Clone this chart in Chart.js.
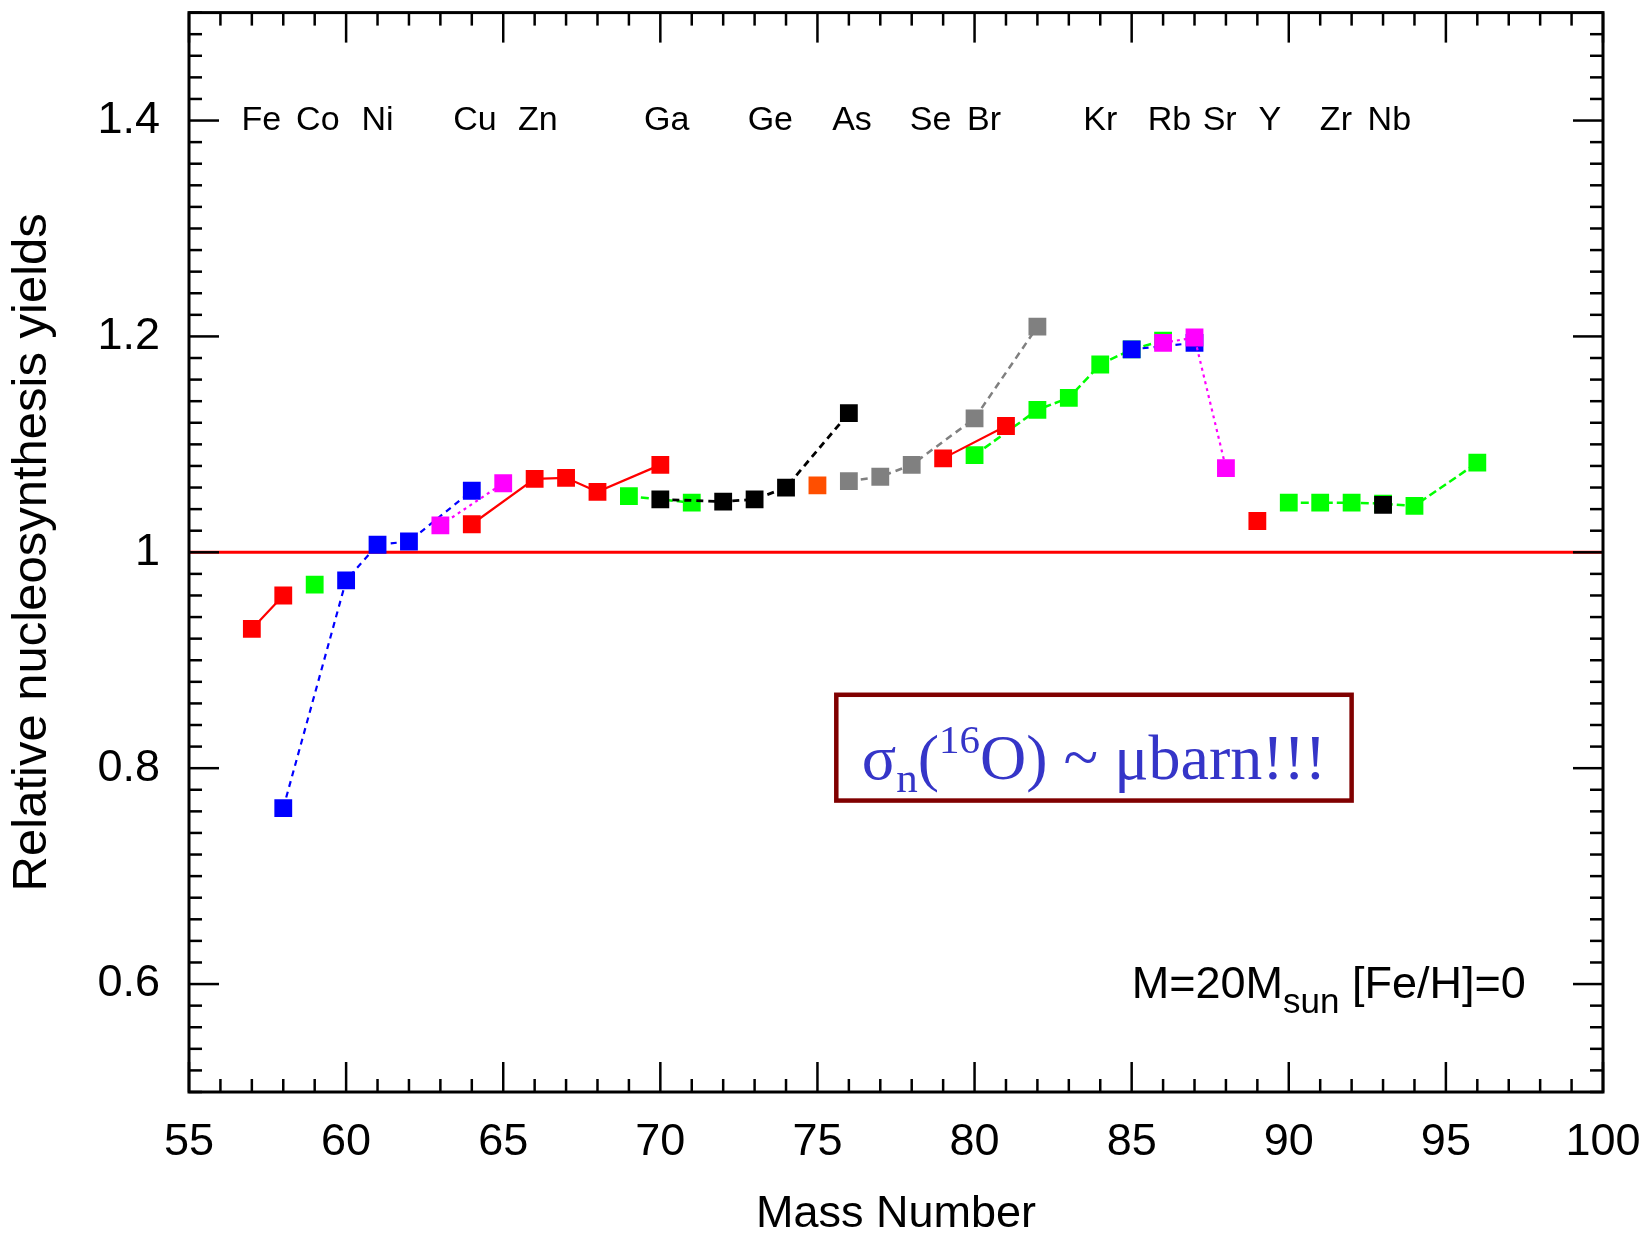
<!DOCTYPE html>
<html>
<head>
<meta charset="utf-8">
<script src="https://cdn.jsdelivr.net/npm/chart.js@4.4.1/dist/chart.umd.min.js"></script>
<style>
  body { margin: 0; background: #fff; }
  #wrap { width: 1651px; height: 1237px; }
</style>
</head>
<body>
<div id="wrap"><canvas id="yields"></canvas></div>
<script>
// Relative yields vs mass number, one group per colour; null breaks the line
const redMass = [57, 58, null, 64, 66, 67, 68, 70, null, 79, 81, null, 89];
const redYield = [0.929, 0.960, null, 1.026, 1.068, 1.069, 1.056, 1.081, null, 1.087, 1.117, null, 1.029];

const blueMass = [58, 60, 61, 62, 64, null, 85, 87];
const blueYield = [0.763, 0.974, 1.007, 1.010, 1.057, null, 1.188, 1.194];

const greenMass = [59, null, 69, 71, null, 80, 82, 83, 84, 85, 86, null, 90, 91, 92, 93, 94, 96];
const greenYield = [0.970, null, 1.052, 1.046, null, 1.090, 1.132, 1.143, 1.174, 1.188, 1.196, null, 1.046, 1.046, 1.046, 1.045, 1.043, 1.083];

const magentaMass = [63, 65, null, 86, 87, 88];
const magentaYield = [1.025, 1.064, null, 1.194, 1.199, 1.078];

const blackMass = [70, 72, 73, 74, 76, null, 93];
const blackYield = [1.049, 1.047, 1.049, 1.060, 1.129, null, 1.044];

const grayMass = [76, 77, 78, 80, 82];
const grayYield = [1.066, 1.070, 1.081, 1.124, 1.209];

const orangeMass = [75];
const orangeYield = [1.062];

// element names along the top, placed at mass number
const elementNames = ['Fe', 'Co', 'Ni', 'Cu', 'Zn', 'Ga', 'Ge', 'As', 'Se', 'Br', 'Kr', 'Rb', 'Sr', 'Y', 'Zr', 'Nb'];
const elementMass = [57.3, 59.1, 61.0, 64.1, 66.1, 70.2, 73.5, 76.1, 78.6, 80.3, 84.0, 86.2, 87.8, 89.4, 91.5, 93.2];

const xTicks = [55, 60, 65, 70, 75, 80, 85, 90, 95, 100];
const yTicks = [0.6, 0.8, 1, 1.2, 1.4];

const SANS = '"Liberation Sans", Arial, sans-serif';
const SERIF = '"Liberation Serif", "Times New Roman", serif';

function points(mass, vals) {
    return mass.map((m, i) => ({ x: m === null ? mass[i - 1] : m, y: vals[i] }));
}

function series(label, mass, vals, color, dash, width, order) {
    return {
        label,
        data: points(mass, vals),
        borderColor: color,
        backgroundColor: color,
        borderWidth: width,
        borderDash: dash || [],
        showLine: dash !== null,
        spanGaps: false,
        tension: 0,
        pointStyle: 'rect',
        pointRadius: 12.6,
        pointBorderWidth: 0,
        pointBackgroundColor: color,
        order
    };
}

// no extra room for edge labels: the plot box is fixed
function noPadding(s) {
    s.paddingTop = 0;
    s.paddingBottom = 0;
    s.paddingLeft = 0;
    s.paddingRight = 0;
}

// inward tick marks on all four sides plus the frame
const frame = {
    id: 'frame',
    afterDraw(chart) {
        const { ctx, chartArea: a, scales: { x, y } } = chart;
        ctx.save();
        ctx.strokeStyle = '#000';
        ctx.lineWidth = 2.5;
        const line = (x0, y0, x1, y1) => {
            ctx.beginPath(); ctx.moveTo(x0, y0); ctx.lineTo(x1, y1); ctx.stroke();
        };
        for (let m = 55; m <= 100; m++) {
            const px = x.getPixelForValue(m);
            const len = m % 5 === 0 ? 30 : 13;
            line(px, a.bottom, px, a.bottom - len);
            line(px, a.top, px, a.top + len);
        }
        for (let i = 0; i <= 50; i++) {
            const py = y.getPixelForValue(0.5 + i * 0.02);
            const len = i % 10 === 5 ? 30 : 13;
            line(a.left, py, a.left + len, py);
            line(a.right, py, a.right - len, py);
        }
        ctx.lineWidth = 3;
        ctx.strokeRect(a.left, a.top, a.right - a.left, a.bottom - a.top);
        ctx.restore();
    }
};

// draws a run of [text, size, dy] pieces left to right
function drawRun(ctx, pieces, x0, baseY, family) {
    let cx = x0;
    pieces.forEach(([t, size, dy]) => {
        ctx.font = size + 'px ' + family;
        ctx.fillText(t, cx, baseY + dy);
        cx += ctx.measureText(t).width;
    });
}

function runWidth(ctx, pieces, family) {
    return pieces.reduce((w, [t, size]) => {
        ctx.font = size + 'px ' + family;
        return w + ctx.measureText(t).width;
    }, 0);
}

const notes = {
    id: 'notes',
    afterDraw(chart) {
        const { ctx, scales: { x, y } } = chart;
        ctx.save();
        ctx.fillStyle = '#000';
        ctx.textBaseline = 'middle';
        ctx.textAlign = 'center';
        ctx.font = '34px ' + SANS;
        const ly = y.getPixelForValue(1.40);
        elementNames.forEach((name, i) => {
            ctx.fillText(name, x.getPixelForValue(elementMass[i]), ly);
        });

        ctx.textAlign = 'left';
        ctx.textBaseline = 'alphabetic';
        drawRun(ctx, [['M=20M', 45, 0], ['sun', 35, 15], [' [Fe/H]=0', 45, 0]],
            x.getPixelForValue(85.0), y.getPixelForValue(0.587), SANS);

        // boxed cross-section note
        const bx0 = x.getPixelForValue(75.6), bx1 = x.getPixelForValue(92.0);
        const by0 = y.getPixelForValue(0.868), by1 = y.getPixelForValue(0.770);
        ctx.strokeStyle = '#800000';
        ctx.lineWidth = 4.5;
        ctx.strokeRect(bx0, by0, bx1 - bx0, by1 - by0);
        const pieces = [['σ', 64, 0], ['n', 43, 13], ['(', 64, 0], ['16', 41, -26], ['O) ~ μbarn!!!', 64, 0]];
        const w = runWidth(ctx, pieces, SERIF);
        ctx.fillStyle = '#3535c8';
        drawRun(ctx, pieces, (bx0 + bx1) / 2 - w / 2, (by0 + by1) / 2 + 31, SERIF);
        ctx.restore();
    }
};

const datasets = [
    series('magenta', magentaMass, magentaYield, '#ff00ff', [3, 4], 2.2, 1),
    series('red', redMass, redYield, '#ff0000', [], 2.2, 2),
    series('black', blackMass, blackYield, '#000000', [7, 5], 2.8, 3),
    series('blue', blueMass, blueYield, '#0000ff', [6, 5], 2.2, 4),
    series('gray', grayMass, grayYield, '#808080', [7, 5], 2.5, 5),
    series('green', greenMass, greenYield, '#00ff00', [8, 4], 2.5, 6),
    series('orange', orangeMass, orangeYield, '#ff4f00', null, 2, 7),
    {
        label: 'unity',
        data: [{ x: 55, y: 1 }, { x: 100, y: 1 }],
        borderColor: '#ff0000',
        borderWidth: 3,
        pointRadius: 0,
        showLine: true,
        order: 20
    }
];

new Chart(document.getElementById('yields'), {
    type: 'scatter',
    data: { datasets },
    options: {
        responsive: true,
        maintainAspectRatio: false,
        animation: false,
        events: [],
        layout: { padding: { top: 10, right: 48, left: 0, bottom: 0 } },
        plugins: {
            legend: { display: false },
            tooltip: { enabled: false }
        },
        scales: {
            x: {
                type: 'linear',
                min: 55,
                max: 100,
                afterBuildTicks: s => { s.ticks = xTicks.map(v => ({ value: v })); },
                afterFit: s => { s.height = 145; noPadding(s); },
                grid: { display: false, drawTicks: false },
                border: { display: false },
                ticks: {
                    autoSkip: false,
                    maxRotation: 0,
                    padding: 24,
                    color: '#000',
                    font: { family: SANS, size: 45 }
                },
                title: {
                    display: true,
                    text: 'Mass Number',
                    color: '#000',
                    font: { family: SANS, size: 45, lineHeight: 1 },
                    padding: { top: 0, bottom: 0 }
                }
            },
            y: {
                min: 0.5,
                max: 1.5,
                afterBuildTicks: s => { s.ticks = yTicks.map(v => ({ value: v })); },
                afterFit: s => { s.width = 189; noPadding(s); },
                grid: { display: false, drawTicks: false },
                border: { display: false },
                ticks: {
                    padding: 29,
                    color: '#000',
                    font: { family: SANS, size: 45 },
                    callback: v => String(v)
                },
                title: {
                    display: true,
                    text: 'Relative nucleosynthesis yields',
                    color: '#000',
                    font: { family: SANS, size: 49, lineHeight: 1 },
                    padding: { top: 8, bottom: 0 }
                }
            }
        }
    },
    plugins: [frame, notes]
});
</script>
</body>
</html>
